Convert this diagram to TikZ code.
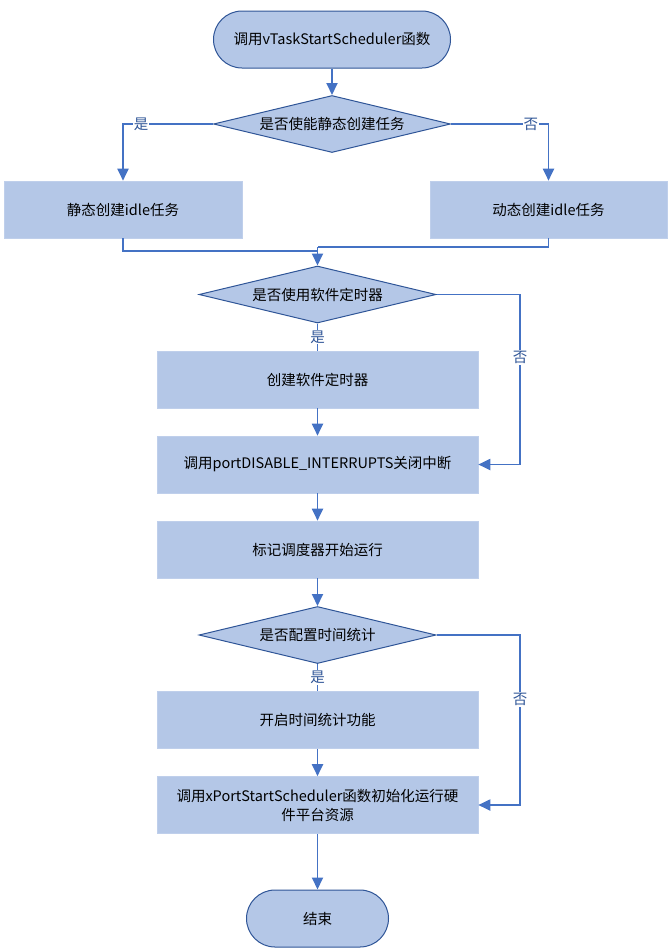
\documentclass[tikz,border=0pt]{standalone}
\usepackage{fontspec}
\setmainfont{Noto Sans CJK SC}
\usetikzlibrary{shapes.geometric,arrows.meta,calc}
\definecolor{boxfill}{HTML}{B4C7E7}
\definecolor{edgeblue}{HTML}{4472C4}
\definecolor{borderblue}{HTML}{2F5597}
\definecolor{labblue}{HTML}{2F5597}
\tikzset{
  base/.style={fill=boxfill, font=\fontsize{14.5}{19}\selectfont, inner sep=0pt, align=center},
  termbox/.style={base, draw=borderblue, line width=1pt, rectangle, rounded corners=28.5pt, minimum height=57pt},
  procbox/.style={base, draw=boxfill!85!white, line width=0.6pt, rectangle, minimum height=57pt},
  decbox/.style={base, draw=borderblue, line width=1pt, diamond, shape aspect=4.16, minimum width=237pt, minimum height=57pt},
  conn/.style={draw=edgeblue, line width=1.9pt},
  arr/.style={conn, -{Triangle[width=11pt,length=12pt]}},
  lab/.style={fill=white, text=labblue, font=\fontsize{14.5}{16}\selectfont, inner sep=1pt}
}
\begin{document}
\begin{tikzpicture}[x=1pt,y=-1pt]
\useasboundingbox (0,0) rectangle (672,951);
\node[termbox, minimum width=237pt] (start) at (332,39.5) {调用vTaskStartScheduler函数};
\node[decbox] (d1) at (332,124) {是否使能静态创建任务};
\node[procbox, minimum width=238pt] (s1) at (123,209.5) {静态创建idle任务};
\node[procbox, minimum width=237pt] (s2) at (548.5,209.5) {动态创建idle任务};
\node[decbox] (d2) at (317.5,294.5) {是否使用软件定时器};
\node[procbox, minimum width=321pt] (b1) at (317.5,379.5) {创建软件定时器};
\node[procbox, minimum width=321pt] (b2) at (317.5,464.5) {调用portDISABLE\_INTERRUPTS关闭中断};
\node[procbox, minimum width=321pt] (b3) at (317.5,549.5) {标记调度器开始运行};
\node[decbox] (d3) at (317.5,635) {是否配置时间统计};
\node[procbox, minimum width=321pt] (b4) at (317.5,720) {开启时间统计功能};
\node[procbox, minimum width=321pt] (b5) at (317.5,805) {调用xPortStartScheduler函数初始化运行硬\\件平台资源};
\node[termbox, minimum width=142pt] (end) at (317.5,918.5) {结束};
\coordinate (jl) at (317.5,251);
\coordinate (jr) at (317.5,247);
\coordinate (xr) at (520,0);

\draw[arr] (start.south) -- (d1.north);
\draw[arr] (d1.west) -| node[lab, pos=0.4] {是} (s1.north);
\draw[arr] (d1.east) -| node[lab, pos=0.41] {否} (s2.north);
\draw[conn] (s1.south) |- (jl);
\draw[conn] (s2.south) |- (jr);
\draw[arr] (jr) -- (d2.north);
\draw[conn] (d2.south) -- node[lab, pos=0.5] {是} (b1.north);
\draw[arr] (b1.south) -- (b2.north);
\draw[arr] (d2.east) -- (d2.east -| xr) -- node[lab, pos=0.37] {否} (xr |- b2.east) -- (b2.east);
\draw[arr] (b2.south) -- (b3.north);
\draw[arr] (b3.south) -- (d3.north);
\draw[conn] (d3.south) -- node[lab, pos=0.5] {是} (b4.north);
\draw[arr] (b4.south) -- (b5.north);
\draw[arr] (d3.east) -- (d3.east -| xr) -- node[lab, pos=0.38] {否} (xr |- b5.east) -- (b5.east);
\draw[arr] (b5.south) -- (end.north);
\end{tikzpicture}
\end{document}
